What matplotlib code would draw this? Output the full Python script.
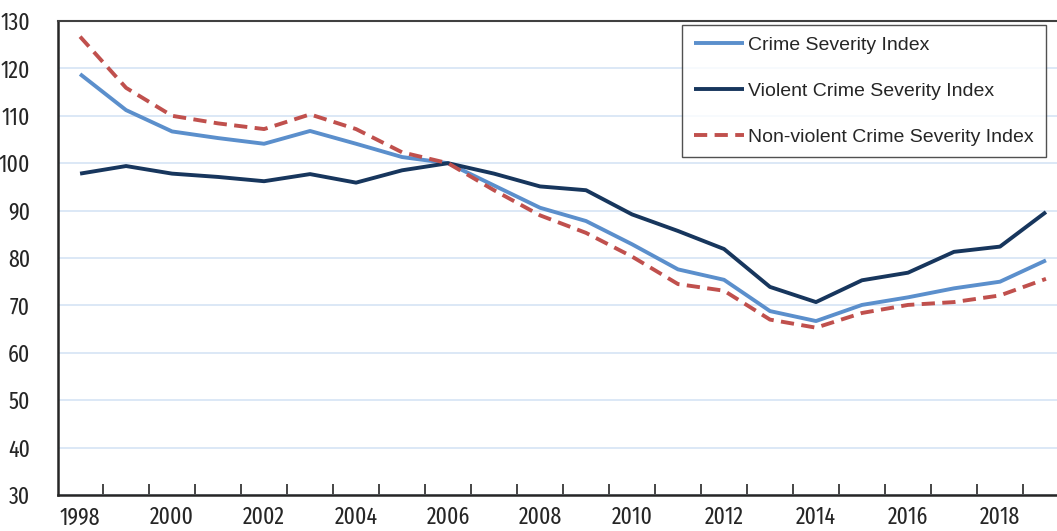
import matplotlib
matplotlib.use("Agg")
import matplotlib.pyplot as plt
import numpy as np

years = list(range(1998, 2020))
csi = [118.8, 111.2, 106.7, 105.3, 104.1, 106.8, 104.1, 101.3, 100.0, 95.3, 90.6,
       87.8, 82.9, 77.6, 75.4, 68.8, 66.7, 70.1, 71.7, 73.6, 75.0, 79.5]
vcsi = [97.8, 99.4, 97.8, 97.1, 96.2, 97.7, 95.9, 98.5, 100.0, 97.8, 95.1,
        94.3, 89.2, 85.7, 81.9, 73.9, 70.7, 75.3, 76.9, 81.3, 82.4, 89.7]
nvcsi = [126.7, 115.9, 110.0, 108.4, 107.2, 110.3, 107.2, 102.3, 100.0, 94.3, 89.0,
         85.3, 80.3, 74.5, 73.1, 67.0, 65.3, 68.4, 70.1, 70.7, 72.1, 75.6]
labels = ["Crime Severity Index", "Violent Crime Severity Index",
          "Non-violent Crime Severity Index"]
tick_years = list(range(1998, 2019, 2))
y_ticks = list(range(30, 131, 10))

narrow = "Fira Sans Extra Condensed"
tfont = dict(fontfamily=narrow, fontweight="normal", fontsize=17, color="#262626")

fig = plt.figure(figsize=(10.57, 5.31), dpi=100)
ax = fig.add_axes([58/1057, 1-495/531, 1-58/1057, (495-21)/531])

ax.plot(years, csi, color="#5B8FCC", lw=2.8, label=labels[0], solid_capstyle="butt", zorder=3)
ax.plot(years, vcsi, color="#17365D", lw=2.8, label=labels[1], solid_capstyle="butt", zorder=4)
ax.plot(years, nvcsi, color="#C0504D", lw=2.8, ls=(0, (3.4, 1.9)), label=labels[2],
        dash_capstyle="butt", zorder=5)

ax.set_ylim(30, 130)
ax.set_xlim(1997.52, 2019.24)
ax.set_yticks(y_ticks)
ax.set_yticklabels([str(v) for v in y_ticks], **tfont)
ax.tick_params(axis="y", length=0, pad=20)
ax.yaxis.grid(True, color="#D6E4F5", lw=1.2)
ax.set_axisbelow(True)

ax.set_xticks(np.arange(1998.5, 2019.5, 1.0))
ax.set_xticklabels([])
ax.tick_params(axis="x", which="major", direction="in", length=8, width=1.2, color="#262626")
ax.set_xticks(tick_years, minor=True)
ax.set_xticklabels([str(y) for y in tick_years], minor=True, **tfont)
ax.tick_params(axis="x", which="minor", length=0, pad=8)

for s in ["left", "bottom"]:
    ax.spines[s].set_color("#262626")
    ax.spines[s].set_linewidth(1.8)
ax.spines["top"].set_color("#404040")
ax.spines["top"].set_linewidth(1.5)
ax.spines["right"].set_visible(False)

leg = ax.legend(loc="upper right", bbox_to_anchor=(0.9925, 1.0),
                prop={"family": "Liberation Sans", "size": 14.0},
                handlelength=2.6, handletextpad=0.2, labelspacing=1.45,
                borderpad=0.6, borderaxespad=0.2, fancybox=False, frameon=True)
leg.get_frame().set_edgecolor("#262626")
leg.get_frame().set_linewidth(1.0)
for t in leg.get_texts():
    t.set_color("#262626")

fig.savefig("out.png", dpi=100)
